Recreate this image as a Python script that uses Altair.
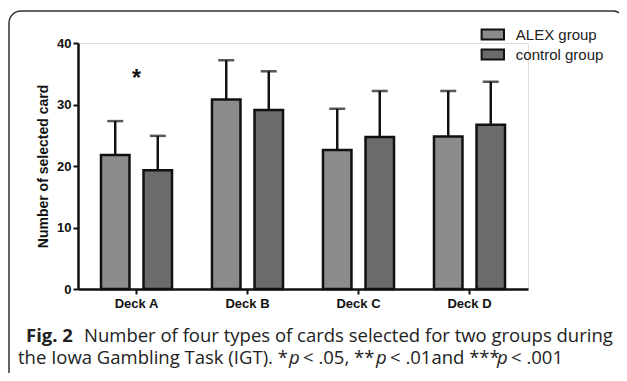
import altair as alt
import pandas as pd

decks = ["Deck A", "Deck B", "Deck C", "Deck D"]
groups = ["ALEX group", "control group"]
alex_mean = [21.8, 30.8, 22.6, 24.8]
alex_sd = [5.5, 6.4, 6.7, 7.4]
control_mean = [19.3, 29.1, 24.7, 26.7]
control_sd = [5.6, 6.3, 7.5, 7.0]
y_ticks = [0, 10, 20, 30, 40]
sig_deck = ["Deck A"]
sig_mark = ["*"]
sig_y = [34.8]

rows = []
for i, d in enumerate(decks):
    rows.append({"deck": d, "group": groups[0], "mean": alex_mean[i], "upper": alex_mean[i] + alex_sd[i]})
    rows.append({"deck": d, "group": groups[1], "mean": control_mean[i], "upper": control_mean[i] + control_sd[i]})
df = pd.DataFrame(rows)
sig_df = pd.DataFrame({"deck": sig_deck, "label": sig_mark, "y": sig_y})

W, H = 450, 246
FONT = "Liberation Sans"

xscale = alt.Scale(domain=decks, paddingInner=0.36, paddingOuter=0.207)
xoff = alt.Scale(domain=groups, paddingInner=0.33, paddingOuter=0)
yscale = alt.Scale(domain=[0, 40], nice=False)

base = alt.Chart(df)

x_enc = alt.X("deck:N", scale=xscale, sort=decks,
              axis=alt.Axis(title=None, labelAngle=0, labelFont=FONT, labelFontSize=13,
                            labelFontWeight="bold", labelColor="#111", domainColor="#111",
                            domainWidth=2.5, tickColor="#111", tickWidth=2, tickSize=5,
                            labelPadding=3, grid=False))

bars = base.mark_bar(stroke="#111", strokeWidth=2.5).encode(
    x=x_enc,
    xOffset=alt.XOffset("group:N", scale=xoff, sort=groups),
    y=alt.Y("mean:Q", scale=yscale,
            axis=alt.Axis(title="Number of selected card", values=y_ticks, labelFont=FONT,
                          labelFontSize=13, labelFontWeight="bold", labelColor="#111",
                          titleFont=FONT, titleFontSize=14, titleFontWeight="bold",
                          titleColor="#111", titlePadding=6, domainColor="#111",
                          domainWidth=2.5, tickColor="#111", tickWidth=2, tickSize=5,
                          labelPadding=2, grid=False)),
    fill=alt.Fill("group:N", sort=groups,
                  scale=alt.Scale(domain=groups, range=["#8c8c8c", "#6b6b6b"]),
                  legend=alt.Legend(title=None, orient="none", legendX=406.8, legendY=-16.5,
                                    symbolType="M-1.6,-0.72H1.6V0.72H-1.6Z", symbolSize=196,
                                    symbolStrokeColor="#111", symbolStrokeWidth=2,
                                    labelFont=FONT, labelFontSize=15, labelColor="#222",
                                    labelOffset=15, rowPadding=0, padding=0)),
)

err = base.mark_rule(color="#111", strokeWidth=2.5).encode(
    x=alt.X("deck:N", scale=xscale, sort=decks),
    xOffset=alt.XOffset("group:N", scale=xoff, sort=groups),
    y=alt.Y("mean:Q", scale=yscale),
    y2="upper:Q",
)

caps = base.mark_tick(color="#111", thickness=2.5, size=16, orient="horizontal").encode(
    x=alt.X("deck:N", scale=xscale, sort=decks),
    xOffset=alt.XOffset("group:N", scale=xoff, sort=groups),
    y=alt.Y("upper:Q", scale=yscale),
)

star = alt.Chart(sig_df).mark_text(font=FONT, fontSize=23, fontWeight="bold", color="#111",
                                   baseline="middle", dy=4).encode(
    x=alt.X("deck:N", scale=xscale, sort=decks),
    y=alt.Y("y:Q", scale=yscale),
    text="label:N",
)

frame = alt.Chart(sig_df).mark_rect(fill=None, stroke="#333", strokeWidth=1.5,
                                    cornerRadius=12, clip=False).encode(
    x=alt.value(-69), x2=alt.value(547), y=alt.value(-32), y2=alt.value(340)
)

CAP_FONT = "Open Sans"
CAP_SIZE = 18.5
cap_y1 = 299
cap_y2 = 321

def txt(s, x, y, weight="normal", style="normal"):
    return alt.Chart(sig_df).mark_text(text=s, font=CAP_FONT, fontSize=CAP_SIZE,
                                       fontWeight=weight, fontStyle=style, color="#222",
                                       align="left", baseline="alphabetic").encode(
        x=alt.value(x), y=alt.value(y))

caption = [
    txt("Fig. 2", -52, cap_y1, weight="bold"),
    txt("Number of four types of cards selected for two groups during", 6, cap_y1),
    txt("the Iowa Gambling Task (IGT). *", -60, cap_y2),
    txt("p", 211, cap_y2, style="italic"),
    txt("< .05, **", 225, cap_y2),
    txt("p", 298, cap_y2, style="italic"),
    txt("< .01and ***", 312, cap_y2),
    txt("p", 419, cap_y2, style="italic"),
    txt("< .001", 433, cap_y2),
]

chart = alt.layer(frame, bars, err, caps, star, *caption).properties(
    width=W, height=H,
    autosize=alt.AutoSizeParams(type="none"),
    padding={"left": 70, "top": 35, "right": 91, "bottom": 84},
).configure_view(stroke=None).configure(background="white")

chart.save("out.html", embed_options={"renderer": "svg", "actions": False})
